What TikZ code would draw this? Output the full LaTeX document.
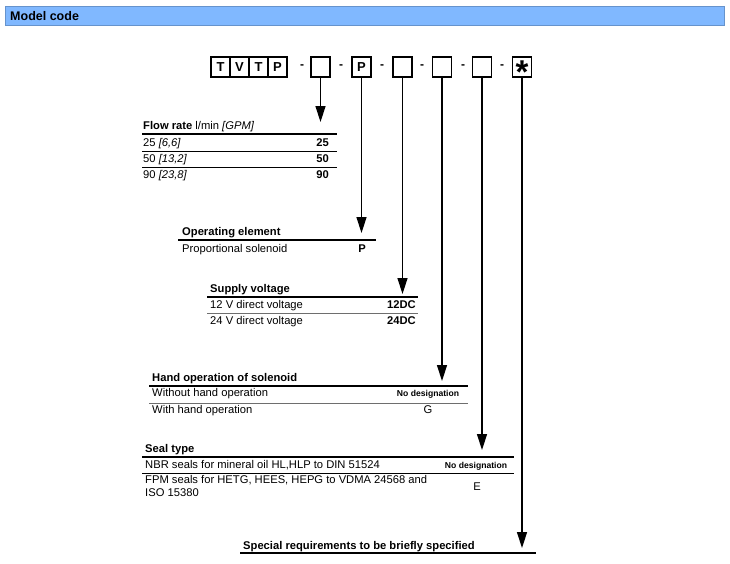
\documentclass[tikz,border=0pt]{standalone}
\usepackage{fontspec}
\setmainfont{Liberation Sans}
\usetikzlibrary{arrows.meta}
\definecolor{hdr}{RGB}{128,184,255}
\definecolor{rulegrey}{RGB}{110,110,110}
\begin{document}
\begin{tikzpicture}[x=1pt,y=-1pt,
  codebox/.style={draw,line width=1.4pt,minimum width=19pt,minimum height=20pt,inner sep=0,font=\fontsize{13}{13}\selectfont\bfseries},
  dashtxt/.style={inner sep=0,font=\fontsize{12}{12}\selectfont\bfseries},
  txt/.style={anchor=base west,inner sep=0,font=\fontsize{11.2}{12}\selectfont},
  ttl/.style={anchor=base west,inner sep=0,font=\fontsize{11.2}{12}\selectfont\bfseries},
  val/.style={anchor=base,inner sep=0,font=\fontsize{11.2}{12}\selectfont\bfseries},
  valr/.style={anchor=base east,inner sep=0,font=\fontsize{11.2}{12}\selectfont\bfseries},
  small/.style={anchor=base,inner sep=0,font=\fontsize{8.6}{9}\selectfont\bfseries},
  hline/.style={line width=1.6pt},
  rline/.style={line width=0.9pt},
  gline/.style={line width=0.9pt,rulegrey},
  arr/.style={line width=1.4pt,-{Triangle[length=16pt,width=10pt]}},
]
\useasboundingbox (0,0) rectangle (730,563);
% header
\node[fill=hdr,draw=hdr!80!black,line width=0.4pt,minimum width=719pt,minimum height=19pt,anchor=north west,inner sep=0] (hdrbar) at (5,6) {};
\node[anchor=base west,inner sep=0,font=\fontsize{12.5}{13}\selectfont\bfseries] (hdrtxt) at (10,20) {Model code};
% code boxes
\node[codebox] (cT1) at (220.5,67) {T};
\node[codebox] (cV) at (239.5,67) {V};
\node[codebox] (cT2) at (258.5,67) {T};
\node[codebox] (cP) at (277.5,67) {P};
\node[dashtxt] (d1) at (302,67) {-};
\node[codebox] (b1) at (320.5,67) {};
\node[dashtxt] (d2) at (341,67) {-};
\node[codebox] (b2) at (361.5,67) {P};
\node[dashtxt] (d3) at (382,67) {-};
\node[codebox] (b3) at (402.5,67) {};
\node[dashtxt] (d4) at (422,67) {-};
\node[codebox] (b4) at (442,67) {};
\node[dashtxt] (d5) at (463,67) {-};
\node[codebox] (b5) at (482,67) {};
\node[dashtxt] (d6) at (502,67) {-};
\node[codebox] (b6) at (522,67) {};
\node[inner sep=0,font=\fontsize{33}{33}\selectfont\bfseries] (star) at (522,72.3) {*};
% arrow tips
\coordinate (t1) at (320.5,122);
\coordinate (t2) at (361.5,233);
\coordinate (t3) at (402.5,294);
\coordinate (t4) at (442,381);
\coordinate (t5) at (482,450);
\coordinate (t6) at (522,548);
\draw[arr] (b1.south) -- (t1);
\draw[arr] (b2.south) -- (t2);
\draw[arr] (b3.south) -- (t3);
\draw[arr] (b4.south) -- (t4);
\draw[arr] (b5.south) -- (t5);
\draw[arr] (b6.south) -- (t6);
% flow rate
\node[ttl] (f0) at (143,129) {Flow rate \mdseries l/min \itshape [GPM]};
\draw[hline] (142,134) -- (337,134);
\node[txt] (f1) at (143,146) {25 \itshape [6,6]};
\node[valr] (f1v) at (329,146) {25};
\draw[rline] (142,151) -- (337,151);
\node[txt] (f2) at (143,162) {50 \itshape [13,2]};
\node[valr] (f2v) at (329,162) {50};
\draw[rline] (142,167) -- (337,167);
\node[txt] (f3) at (143,178) {90 \itshape [23,8]};
\node[valr] (f3v) at (329,178) {90};
% operating element
\node[ttl] (o0) at (182,235) {Operating element};
\draw[hline] (178,240) -- (376,240);
\node[txt] (o1) at (182,252) {Proportional solenoid};
\node[val] (o1v) at (362,252) {P};
% supply voltage
\node[ttl] (s0) at (210,292) {Supply voltage};
\draw[hline] (207,297) -- (418,297);
\node[txt] (s1) at (210,308) {12 V direct voltage};
\node[valr] (s1v) at (416,308) {12DC};
\draw[gline] (207,313) -- (418,313);
\node[txt] (s2) at (210,324) {24 V direct voltage};
\node[valr] (s2v) at (416,324) {24DC};
% hand operation
\node[ttl] (h0) at (152,381) {Hand operation of solenoid};
\draw[hline] (149,386) -- (468,386);
\node[txt] (h1) at (152,396) {Without hand operation};
\node[small] (h1v) at (428,396) {No designation};
\draw[gline] (149,403) -- (468,403);
\node[txt] (h2) at (152,413) {With hand operation};
\node[anchor=base,inner sep=0,font=\fontsize{11.2}{12}\selectfont] (h2v) at (428,413) {G};
% seal type
\node[ttl] (e0) at (145,452) {Seal type};
\draw[hline] (142,457) -- (514,457);
\node[txt] (e1) at (145,468) {NBR seals for mineral oil HL,HLP to DIN 51524};
\node[small] (e1v) at (476,468) {No designation};
\draw[rline] (142,473) -- (514,473);
\node[txt] (e2) at (145,483) {FPM seals for HETG, HEES, HEPG to VDMA 24568 and};
\node[txt] (e3) at (145,496) {ISO 15380};
\node[anchor=base,inner sep=0,font=\fontsize{11.2}{12}\selectfont] (e2v) at (477,490) {E};
% special
\node[ttl] (sp0) at (243,549) {Special requirements to be briefly specified};
\draw[hline] (240,553) -- (536,553);
\end{tikzpicture}
\end{document}
